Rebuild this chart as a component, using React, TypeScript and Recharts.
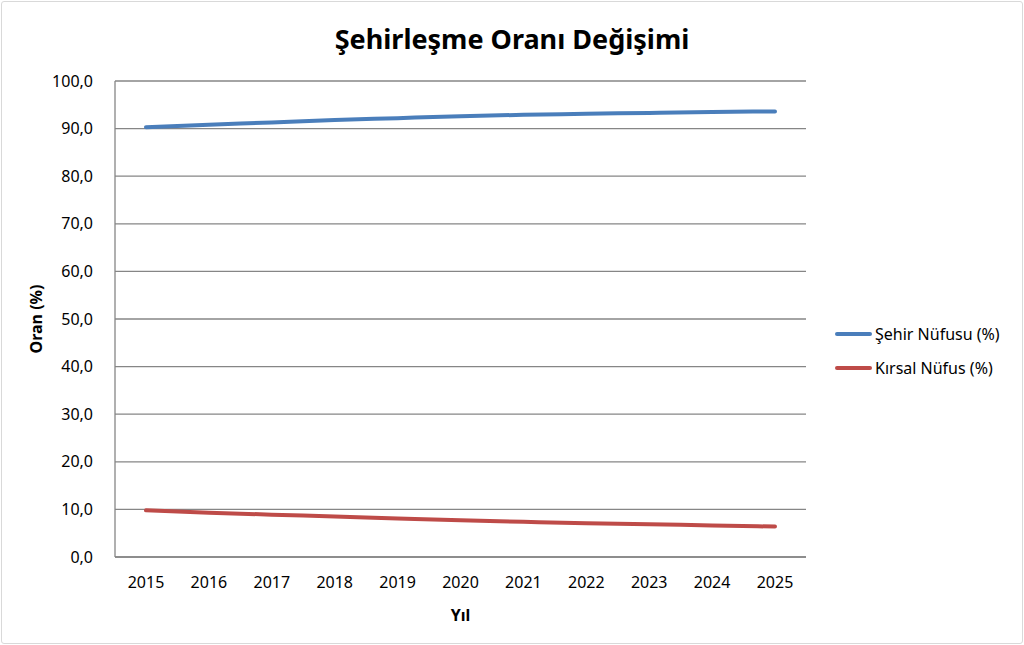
import { LineChart, Line, XAxis, YAxis, CartesianGrid } from 'recharts'

const YEARS = ['2015', '2016', '2017', '2018', '2019', '2020', '2021', '2022', '2023', '2024', '2025']
const URBAN = [90.3, 90.8, 91.3, 91.8, 92.2, 92.6, 92.9, 93.1, 93.3, 93.5, 93.6]
const RURAL = [9.8, 9.3, 8.9, 8.5, 8.1, 7.7, 7.4, 7.1, 6.9, 6.6, 6.4]
const Y_TICKS = [0, 10, 20, 30, 40, 50, 60, 70, 80, 90, 100]

const SERIES = [
  { key: 'urban', name: 'Şehir Nüfusu (%)', color: '#4a7ebb' },
  { key: 'rural', name: 'Kırsal Nüfus (%)', color: '#be4b48' },
]

const FONT = '"Noto Sans", sans-serif'

const data = YEARS.map((y, i) => ({ year: y, urban: URBAN[i], rural: RURAL[i] }))

function LegendBox() {
  return (
    <div style={{ position: 'absolute', left: 835, top: 317, fontFamily: FONT, fontSize: 16, color: '#000' }}>
      {SERIES.map((s) => (
        <div key={s.key} style={{ display: 'flex', alignItems: 'center', height: 34 }}>
          <div style={{ width: 37, height: 4, background: s.color, borderRadius: 2, marginRight: 3 }} />
          <span>{s.name}</span>
        </div>
      ))}
    </div>
  )
}

export default function App() {
  return (
    <div style={{ position: 'absolute', left: 0, top: 0, width: 1024, height: 645, background: '#fff' }}>
      <div style={{ position: 'absolute', left: 1, top: 1, width: 1020, height: 641, border: '1px solid #d9d9d9', borderRadius: 3 }} />
      <div style={{ position: 'absolute', left: 0, top: 20, width: 1024, textAlign: 'center', fontFamily: FONT, fontWeight: 700, fontSize: 27, color: '#000' }}>
        Şehirleşme Oranı Değişimi
      </div>
      <LineChart width={1024} height={645} data={data} margin={{ top: 81, right: 218, left: 0, bottom: 0 }}>
        <CartesianGrid vertical={false} stroke="#868686" strokeWidth={1.3} />
        <XAxis
          dataKey="year"
          height={88}
          padding={{ left: 31, right: 31 }}
          stroke="#868686"
          strokeWidth={1.3}
          tickLine={false}
          tick={{ fill: '#000', fontSize: 16, fontFamily: FONT }}
          tickMargin={14}
          label={{ value: 'Yıl', position: 'insideBottom', offset: 24, fill: '#000', fontSize: 16, fontWeight: 700, fontFamily: FONT }}
        />
        <YAxis
          width={115}
          domain={[0, 100]}
          ticks={Y_TICKS}
          interval={0}
          stroke="#868686"
          strokeWidth={1.3}
          tickLine={false}
          tickFormatter={(v: number) => v.toFixed(1).replace('.', ',')}
          tick={{ fill: '#000', fontSize: 16, fontFamily: FONT }}
          tickMargin={16}
          label={{ value: 'Oran (%)', angle: -90, position: 'insideLeft', offset: 36, fill: '#000', fontSize: 16, fontWeight: 700, fontFamily: FONT, style: { textAnchor: 'middle' } }}
        />
        {SERIES.map((s) => (
          <Line
            key={s.key}
            type="monotone"
            dataKey={s.key}
            name={s.name}
            stroke={s.color}
            strokeWidth={4}
            strokeLinecap="round"
            dot={false}
            isAnimationActive={false}
          />
        ))}
      </LineChart>
      <LegendBox />
    </div>
  )
}
